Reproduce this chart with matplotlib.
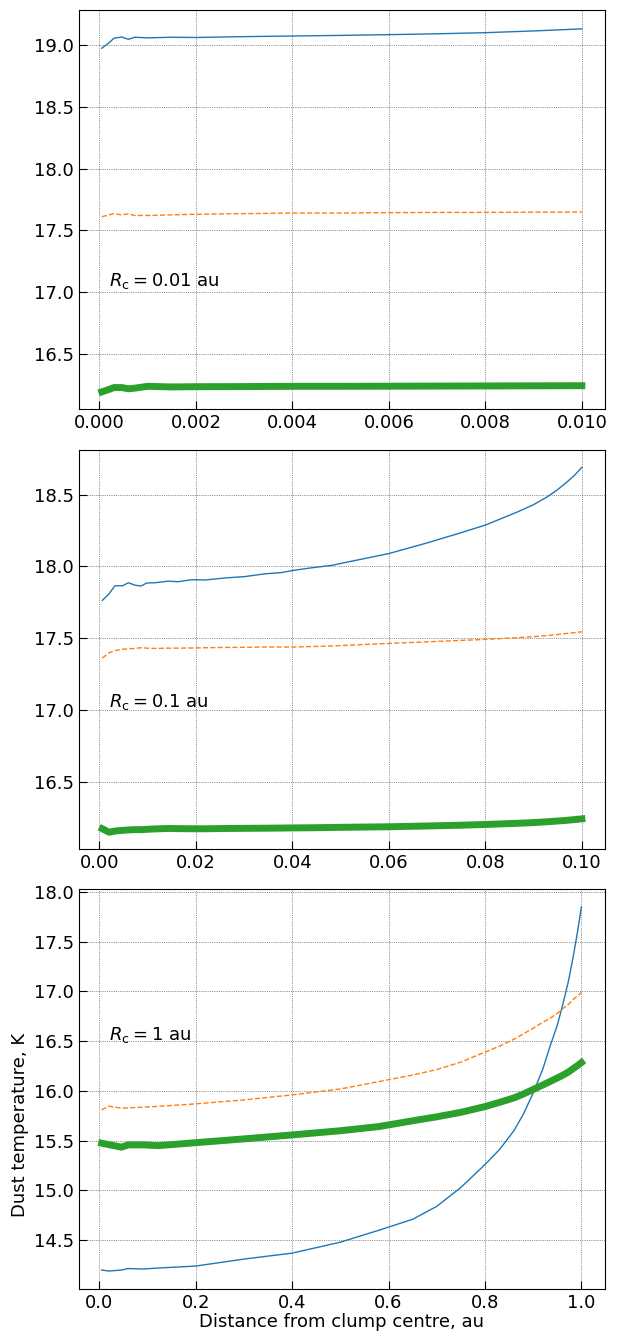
import matplotlib
matplotlib.use("Agg")
import matplotlib.pyplot as plt

# R_c = 0.01 au
x1 = [0.00005, 0.0002, 0.0003, 0.00046, 0.0006, 0.00073, 0.001, 0.0015, 0.002,
      0.003, 0.004, 0.005, 0.006, 0.007, 0.008, 0.009, 0.01]
blue1 = [18.976, 19.02, 19.057, 19.067, 19.048, 19.065, 19.06, 19.065, 19.063,
         19.07, 19.075, 19.08, 19.086, 19.093, 19.102, 19.116, 19.133]
orange1 = [17.61, 17.625, 17.635, 17.625, 17.633, 17.62, 17.62, 17.625, 17.63,
           17.635, 17.64, 17.64, 17.643, 17.645, 17.645, 17.647, 17.648]
green1 = [16.19, 16.21, 16.225, 16.225, 16.215, 16.22, 16.235, 16.23, 16.232,
          16.233, 16.235, 16.235, 16.236, 16.237, 16.238, 16.239, 16.24]

# R_c = 0.1 au
x2 = [0.0006, 0.002, 0.0032, 0.0048, 0.006, 0.0074, 0.0086, 0.0098, 0.0115,
      0.0143, 0.0163, 0.0191, 0.0219, 0.026, 0.0302, 0.0343, 0.0378, 0.04,
      0.044, 0.0482, 0.05, 0.06, 0.0673, 0.0742, 0.08, 0.0867, 0.09, 0.0929,
      0.095, 0.097, 0.0985, 0.1]
blue2 = [17.764, 17.81, 17.866, 17.866, 17.887, 17.87, 17.864, 17.885, 17.887,
         17.898, 17.894, 17.908, 17.906, 17.92, 17.93, 17.949, 17.958, 17.972,
         17.991, 18.008, 18.021, 18.09, 18.158, 18.227, 18.288, 18.38, 18.43,
         18.486, 18.535, 18.59, 18.635, 18.69]
orange2 = [17.363, 17.40, 17.415, 17.424, 17.428, 17.43, 17.435, 17.432, 17.43,
           17.432, 17.432, 17.433, 17.435, 17.437, 17.438, 17.44, 17.44, 17.44,
           17.443, 17.447, 17.45, 17.465, 17.475, 17.485, 17.493, 17.505, 17.512,
           17.52, 17.527, 17.535, 17.54, 17.546]
green2 = [16.176, 16.152, 16.16, 16.165, 16.168, 16.17, 16.17, 16.172, 16.175,
          16.178, 16.177, 16.176, 16.176, 16.178, 16.179, 16.18, 16.181, 16.182,
          16.183, 16.185, 16.186, 16.19, 16.195, 16.2, 16.206, 16.214, 16.219,
          16.225, 16.23, 16.235, 16.24, 16.245]

# R_c = 1 au
x3 = [0.005, 0.02, 0.046, 0.06, 0.09, 0.122, 0.2, 0.3, 0.4, 0.5, 0.58, 0.65,
      0.7, 0.75, 0.8, 0.83, 0.86, 0.88, 0.9, 0.92, 0.935, 0.95, 0.962, 0.973,
      0.983, 0.992, 1.0]
blue3 = [14.2, 14.19, 14.2, 14.215, 14.21, 14.22, 14.24, 14.31, 14.37, 14.48,
         14.60, 14.71, 14.84, 15.03, 15.26, 15.41, 15.6, 15.77, 15.98, 16.22,
         16.45, 16.66, 16.88, 17.1, 17.35, 17.6, 17.85]
orange3 = [15.81, 15.847, 15.827, 15.83, 15.837, 15.845, 15.87, 15.91, 15.96,
           16.02, 16.094, 16.16, 16.215, 16.29, 16.39, 16.45, 16.52, 16.575,
           16.63, 16.69, 16.73, 16.78, 16.83, 16.87, 16.92, 16.955, 16.99]
green3 = [15.475, 15.46, 15.435, 15.458, 15.458, 15.45, 15.48, 15.518, 15.558,
          15.60, 15.642, 15.70, 15.74, 15.785, 15.843, 15.885, 15.93, 15.97,
          16.015, 16.06, 16.095, 16.13, 16.16, 16.19, 16.225, 16.255, 16.285]

PANELS = [
    dict(x=x1, b=blue1, o=orange1, g=green1, label=r"$R_\mathrm{c} = 0.01$ au",
         txt=(0.0002, 17.05), xlim=(-0.00043, 0.01048), ylim=(16.051, 19.286)),
    dict(x=x2, b=blue2, o=orange2, g=green2, label=r"$R_\mathrm{c} = 0.1$ au",
         txt=(0.002, 17.025), xlim=(-0.0043, 0.1048), ylim=(16.035, 18.81)),
    dict(x=x3, b=blue3, o=orange3, g=green3, label=r"$R_\mathrm{c} = 1$ au",
         txt=(0.02, 16.51), xlim=(-0.0427, 1.049), ylim=(14.01, 18.03)),
]

plt.rcParams["font.size"] = 13

fig = plt.figure(figsize=(6.18, 13.31), dpi=100)
rects = [
    (0.1273, 0.6927, 0.8517, 0.2998),
    (0.1273, 0.3621, 0.8517, 0.2998),
    (0.1273, 0.0316, 0.8517, 0.3005),
]

axes = []
for p, r in zip(PANELS, rects):
    ax = fig.add_axes(r)
    ax.plot(p["x"], p["b"], color="#1f77b4", lw=1.0)
    ax.plot(p["x"], p["o"], color="#ff7f0e", lw=1.0, ls="--")
    ax.plot(p["x"], p["g"], color="#2ca02c", lw=5.0)
    ax.set_xlim(*p["xlim"])
    ax.set_ylim(*p["ylim"])
    ax.grid(True, color="k", ls=":", lw=0.5, alpha=0.8)
    ax.tick_params(direction="in", length=5.5, labelsize=13)
    ax.text(p["txt"][0], p["txt"][1], p["label"], fontsize=13, va="baseline")
    axes.append(ax)

axes[2].set_xlabel("Distance from clump centre, au", labelpad=1)
axes[2].set_ylabel("Dust temperature, K")
axes[2].yaxis.set_label_coords(-0.095, 0.41)

fig.savefig("out.png", dpi=100)
